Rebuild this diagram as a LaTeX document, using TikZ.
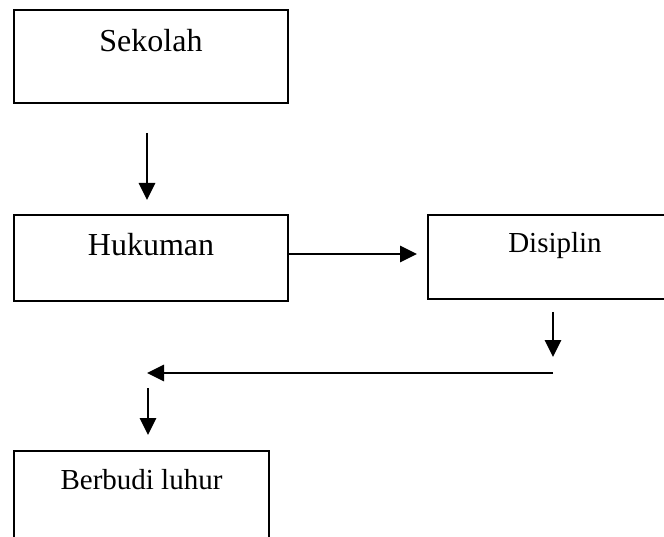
\documentclass[tikz,border=0pt]{standalone}
\usepackage{fontspec}
\setmainfont{Liberation Serif}
\usetikzlibrary{arrows.meta, positioning}

\begin{document}
\begin{tikzpicture}[x=1pt, y=-1pt]
\tikzstyle{box}=[draw=black, line width=2.8pt, inner sep=0pt]
\tikzstyle{bigtxt}=[inner sep=0pt, anchor=base, font=\fontsize{32}{36}\selectfont]
\tikzstyle{smalltxt}=[inner sep=0pt, anchor=base, font=\fontsize{29}{34}\selectfont]
\tikzstyle{arr}=[black, line width=2.8pt, -{Triangle[length=17pt, width=16pt]}]
\useasboundingbox (0,0) rectangle (664,537);
% boxes
\node [box, minimum width=274pt, minimum height=93pt] (sekolah) at (151,56.5) {};
\node [box, minimum width=274pt, minimum height=86pt] (hukuman) at (151,258) {};
\node [box, minimum width=254pt, minimum height=84pt] (disiplin) at (555,257) {};
\node [box, minimum width=255pt, minimum height=94pt] (berbudi) at (141.5,498) {};
% texts
\node [bigtxt] (tsekolah) at (151,52) {Sekolah};
\node [bigtxt] (thukuman) at (151,256) {Hukuman};
\node [smalltxt] (tdisiplin) at (555,253) {Disiplin};
\node [smalltxt] (tberbudi) at (141.5,489) {Berbudi luhur};
% arrows
\coordinate (a1s) at (147,133);
\coordinate (a1e) at (147,200);
\coordinate (a2e) at (417,254);
\coordinate (a3s) at (553,312);
\coordinate (a3e) at (553,357);
\coordinate (a4s) at (553,373);
\coordinate (a4e) at (147,373);
\coordinate (a5s) at (148,388);
\coordinate (a5e) at (148,435);
\draw [arr] (a1s) -- (a1e);
\draw [arr] (a2e -| hukuman.east) -- (a2e);
\draw [arr] (a3s) -- (a3e);
\draw [arr] (a4s) -- (a4e);
\draw [arr] (a5s) -- (a5e);
\end{tikzpicture}
\end{document}
